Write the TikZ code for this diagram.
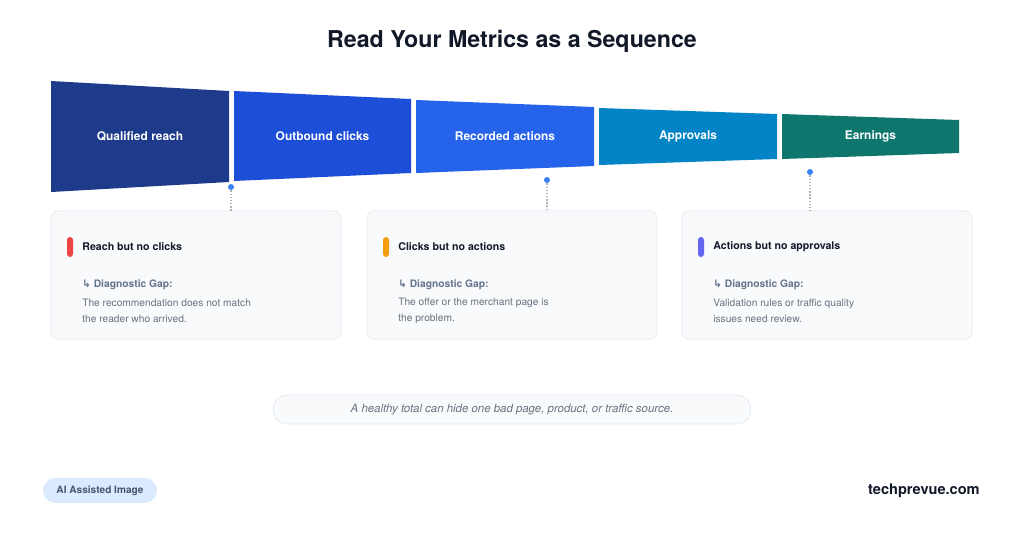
\documentclass[tikz,border=0pt]{standalone}
\usepackage{fontspec}
\setmainfont{TeX Gyre Heros}
\newfontfamily\arrowfont{DejaVu Sans}
\usepackage{tikz}
\usetikzlibrary{positioning}

\definecolor{inkdark}{HTML}{111827}
\definecolor{stepnavy}{HTML}{1E3A8A}
\definecolor{stepblue}{HTML}{1D4ED8}
\definecolor{steplight}{HTML}{2563EB}
\definecolor{stepsky}{HTML}{0284C7}
\definecolor{stepteal}{HTML}{0F766E}
\definecolor{barred}{HTML}{EF4444}
\definecolor{barorange}{HTML}{F59E0B}
\definecolor{barpurple}{HTML}{6366F1}
\definecolor{gapgray}{HTML}{64748B}
\definecolor{bodygray}{HTML}{6B7280}
\definecolor{cardfill}{HTML}{F8FAFC}
\definecolor{cardline}{HTML}{E2E8F0}
\definecolor{dotblue}{HTML}{3B82F6}
\definecolor{pillblue}{HTML}{DBEAFE}
\definecolor{pilltext}{HTML}{475569}

\begin{document}
\begin{tikzpicture}[x=0.02cm, y=-0.02cm,
  seglabel/.style={text=white, font=\bfseries\fontsize{6.8pt}{8pt}\selectfont},
  card/.style={draw=cardline, fill=cardfill, rounded corners=0.14cm,
    minimum width=5.8cm, minimum height=2.56cm, inner sep=0pt},
  cardtitle/.style={anchor=west, inner sep=0pt, text=inkdark,
    font=\bfseries\fontsize{6.05pt}{7pt}\selectfont},
  gaplabel/.style={anchor=west, inner sep=0pt, text=gapgray,
    font=\bfseries\fontsize{5.85pt}{7pt}\selectfont},
  gaptext/.style={anchor=west, inner sep=0pt, text=bodygray, align=left,
    font=\fontsize{5.8pt}{9.07pt}\selectfont},
  dotmark/.style={circle, fill=dotblue, inner sep=0pt, minimum size=0.12cm},
  linkline/.style={gray!60, densely dotted, thick}]

\useasboundingbox (0,0) rectangle (1024,538);
\fill[white] (0,0) rectangle (1024,538);

% title
\node[text=inkdark, font=\bfseries\fontsize{13.2pt}{15pt}\selectfont] (heading) at (512,41)
  {Read Your Metrics as a Sequence};

% funnel
\fill[stepnavy] (51,81) -- (229,91) -- (229,182) -- (51,192) -- cycle;
\fill[stepblue] (234,91) -- (411,99) -- (411,173) -- (234,181) -- cycle;
\fill[steplight] (416,100) -- (594,107) -- (594,166) -- (416,173) -- cycle;
\fill[stepsky] (599,108) -- (777,114) -- (777,159) -- (599,165) -- cycle;
\fill[stepteal] (782,114) -- (959,120) -- (959,153) -- (782,159) -- cycle;
\node[seglabel] (reach) at (140,136.5) {Qualified reach};
\node[seglabel] (clicks) at (322.5,136.5) {Outbound clicks};
\node[seglabel] (actions) at (505,136.5) {Recorded actions};
\node[seglabel] (approvals) at (688,136.5) {Approvals};
\node[seglabel] (earnings) at (870.5,136.5) {Earnings};

% diagnostic cards
\foreach \cx/\dx/\dy/\barc/\ttl/\bodytxt [count=\i] in {
  51/231/187/barred/{Reach but no clicks}/{The recommendation does not match\\the reader who arrived.},
  367/547/180/barorange/{Clicks but no actions}/{The offer or the merchant page is\\the problem.},
  682/810/172/barpurple/{Actions but no approvals}/{Validation rules or traffic quality\\issues need review.}}{
  \node[card] (card\i) at (\cx+145,275) {};
  \fill[\barc, rounded corners=0.06cm] (\cx+16,237) rectangle (\cx+22,257);
  \node[cardtitle] (title\i) at (\cx+31,247) {\ttl};
  \node[gaplabel] (gap\i) at (\cx+31,285) {{\arrowfont ↳} Diagnostic Gap:};
  \node[gaptext] (why\i) at (\cx+31,311) {\bodytxt};
  \node[dotmark] (dot\i) at (\dx,\dy) {};
  \draw[linkline] (dot\i) -- (dot\i |- card\i.north);
}

% note and footer
\node[draw=cardline, fill=cardfill, rounded corners=0.29cm, minimum width=9.56cm,
  minimum height=0.58cm, inner sep=0pt, text=bodygray,
  font=\itshape\fontsize{6.5pt}{7.5pt}\selectfont] (note) at (512,409.5)
  {A healthy total can hide one bad page, product, or traffic source.};
\node[fill=pillblue, rounded corners=0.25cm, minimum width=2.28cm, minimum height=0.5cm,
  inner sep=0pt, text=pilltext, font=\bfseries\fontsize{5.75pt}{7pt}\selectfont] (aibadge)
  at (100,490.5) {AI Assisted Image};
\node[anchor=east, inner sep=0pt, text=inkdark, font=\bfseries\fontsize{8.3pt}{10pt}\selectfont]
  (site) at (980,491) {techprevue.com};
\end{tikzpicture}
\end{document}
